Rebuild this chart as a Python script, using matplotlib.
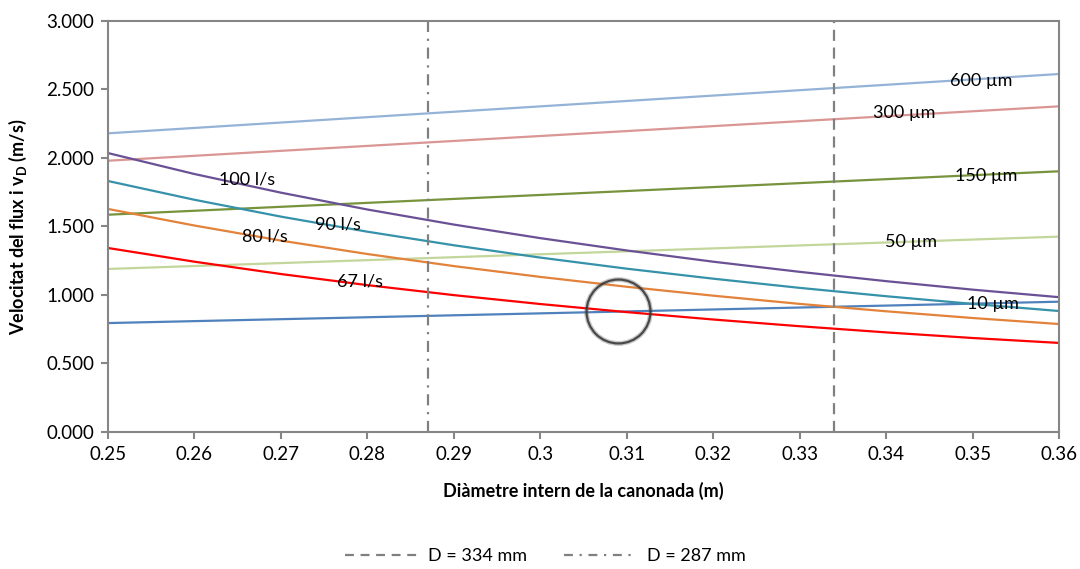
import matplotlib
matplotlib.use("Agg")
import matplotlib.pyplot as plt
import matplotlib.ticker as ticker
from matplotlib.lines import Line2D

plt.rcParams['font.family'] = ['Lato', 'DejaVu Sans']
plt.rcParams['mathtext.fontset'] = 'custom'
plt.rcParams['mathtext.rm'] = 'Lato'
plt.rcParams['mathtext.bf'] = 'Lato:bold'

# diàmetres (m)
diam = [0.25, 0.26, 0.27, 0.28, 0.29, 0.30, 0.31, 0.32, 0.33, 0.34, 0.35, 0.36]

# velocitat del flux per cabal (m/s)
v_100 = [2.036, 1.883, 1.747, 1.624, 1.514, 1.415, 1.325, 1.243, 1.169, 1.101, 1.039, 0.984]
v_90 = [1.832, 1.695, 1.572, 1.462, 1.363, 1.273, 1.192, 1.119, 1.052, 0.991, 0.935, 0.883]
v_80 = [1.628, 1.507, 1.397, 1.299, 1.211, 1.132, 1.060, 0.995, 0.935, 0.881, 0.832, 0.788]
v_67 = [1.343, 1.243, 1.153, 1.072, 0.999, 0.934, 0.875, 0.821, 0.772, 0.727, 0.686, 0.650]

# velocitat de deposició per mida de partícula (rectes)
diam_ends = [0.25, 0.36]
vd_600 = [2.180, 2.613]
vd_300 = [1.980, 2.377]
vd_150 = [1.586, 1.903]
vd_50 = [1.190, 1.426]
vd_10 = [0.795, 0.951]

d_334 = 0.334
d_287 = 0.287
punt = (0.309, 0.883)

x_ticks = [0.25, 0.26, 0.27, 0.28, 0.29, 0.30, 0.31, 0.32, 0.33, 0.34, 0.35, 0.36]
y_ticks = [0.0, 0.5, 1.0, 1.5, 2.0, 2.5, 3.0]

fig = plt.figure(figsize=(10.8, 5.69), dpi=100)
ax = fig.add_axes((0.1, 0.2408, 0.8806, 0.7223))

lw = 1.6
ax.plot(diam_ends, vd_600, color='#95B3D7', lw=lw)
ax.plot(diam_ends, vd_300, color='#D99694', lw=lw)
ax.plot(diam_ends, vd_150, color='#77933C', lw=lw)
ax.plot(diam_ends, vd_50, color='#C3D69B', lw=lw)
ax.plot(diam_ends, vd_10, color='#4F81BD', lw=lw)
ax.plot(diam, v_100, color='#6A5195', lw=lw)
ax.plot(diam, v_90, color='#3592AA', lw=lw)
ax.plot(diam, v_80, color='#E3823A', lw=lw)
ax.plot(diam, v_67, color='#FF0000', lw=lw)

# diàmetres de referència
ax.axvline(d_334, color='#808080', lw=1.6, ls=(0, (5, 3)))
ax.axvline(d_287, color='#808080', lw=1.6, ls=(0, (5, 3, 1, 3)))

# cercle al punt d'intersecció
ax.plot(*punt, marker='o', ms=46, mfc='none', mec='#666666', mew=3.5, alpha=0.35)
ax.plot(*punt, marker='o', ms=46, mfc='none', mec='#333333', mew=1.6, alpha=0.85)

# etiquetes de les corbes
fs = 13
labels = [
    (0.2661, 1.84, '100 l/s'),
    (0.2766, 1.518, '90 l/s'),
    (0.2682, 1.43, '80 l/s'),
    (0.2792, 1.095, '67 l/s'),
    (0.3510, 2.562, '600 µm'),
    (0.3421, 2.328, '300 µm'),
    (0.3516, 1.869, '150 µm'),
    (0.3429, 1.387, '50 µm'),
    (0.3524, 0.934, '10 µm'),
]
for x, y, t in labels:
    ax.text(x, y, t, fontsize=fs, ha='center', va='center')

ax.set_xlim(0.25, 0.36)
ax.set_ylim(0, 3)
ax.xaxis.set_major_locator(ticker.FixedLocator(x_ticks))
ax.yaxis.set_major_locator(ticker.FixedLocator(y_ticks))
ax.xaxis.set_major_formatter(ticker.FuncFormatter(lambda v, p: f"{v:g}"))
ax.yaxis.set_major_formatter(ticker.FormatStrFormatter('%.3f'))
ax.tick_params(direction='out', length=5, width=1.5, color='#868686', labelsize=13.5, pad=5)
for s in ax.spines.values():
    s.set_color('#868686')
    s.set_linewidth(1.5)

ax.set_xlabel('Diàmetre intern de la canonada (m)', fontsize=13, fontweight='bold', labelpad=14)
ax.set_ylabel(r'Velocitat del flux i v$_\mathbf{D}$ (m/s)', fontsize=13, fontweight='bold', labelpad=12)

handles = [
    Line2D([], [], color='#808080', lw=1.6, ls=(0, (4, 3))),
    Line2D([], [], color='#808080', lw=1.6, ls=(0, (4, 3, 1, 3))),
]
fig.legend(handles, ['D = 334 mm', 'D = 287 mm'], loc='center', bbox_to_anchor=(0.505, 0.023),
           ncol=2, frameon=False, fontsize=13, handlelength=4, columnspacing=2.0, handletextpad=0.6)

fig.savefig('out.png', dpi=100)
